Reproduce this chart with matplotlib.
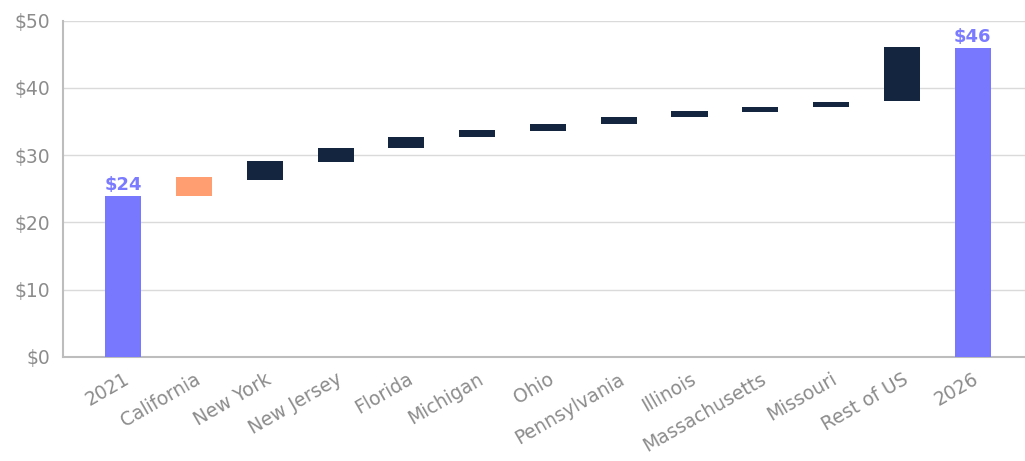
import matplotlib.pyplot as plt

# waterfall: state contributions to growth, 2021 -> 2026
categories = ['2021', 'California', 'New York', 'New Jersey', 'Florida', 'Michigan',
              'Ohio', 'Pennsylvania', 'Illinois', 'Massachusetts', 'Missouri',
              'Rest of US', '2026']
bottoms = [0, 24.0, 26.3, 29.0, 31.1, 32.7, 33.6, 34.6, 35.7, 36.4, 37.2, 38.0, 0]
tops = [24.0, 26.8, 29.1, 31.1, 32.7, 33.7, 34.6, 35.7, 36.6, 37.2, 37.9, 46.1, 46.0]
kinds = ['total', 'highlight', 'step', 'step', 'step', 'step', 'step', 'step',
         'step', 'step', 'step', 'step', 'total']
total_labels = {0: '$24', 12: '$46'}
y_ticks = [0, 10, 20, 30, 40, 50]


def main():
    colors = {'total': '#7878FF', 'highlight': '#FF9E70', 'step': '#14263F'}
    plt.rcParams['font.family'] = ['DejaVu Sans']

    fig = plt.figure(figsize=(10.25, 4.61), dpi=100)
    ax = fig.add_axes([0.0615, 0.2256, 0.9385, 0.7294])

    x = list(range(len(categories)))
    heights = [t - b for t, b in zip(tops, bottoms)]
    bar_colors = [colors[k] for k in kinds]
    ax.bar(x, heights, bottom=bottoms, width=0.51, color=bar_colors, zorder=3)

    # labels on the two total bars
    for i, txt in total_labels.items():
        ax.text(i, tops[i] + 0.3, txt, ha='center', va='bottom', fontsize=13,
                fontweight='bold', color='#7B7BFF', zorder=4)

    ax.set_xlim(-0.85, 12.74)
    ax.set_ylim(0, 50)
    ax.set_yticks(y_ticks)
    ax.set_yticklabels(['$' + str(t) for t in y_ticks])
    ax.set_xticks(x)
    ax.set_xticklabels(categories, rotation=30, ha='right', rotation_mode='anchor')

    ax.grid(axis='y', color='#DADADA', linewidth=1, zorder=0)
    ax.tick_params(axis='both', length=0, labelsize=13.5, colors='#8C8C8C')
    ax.tick_params(axis='y', pad=9)
    ax.tick_params(axis='x', pad=9)

    for side in ['top', 'right']:
        ax.spines[side].set_visible(False)
    for side in ['left', 'bottom']:
        ax.spines[side].set_color('#BDBDBD')
        ax.spines[side].set_linewidth(1.5)

    fig.savefig('out.png', dpi=100)


if __name__ == "__main__":
    main()
